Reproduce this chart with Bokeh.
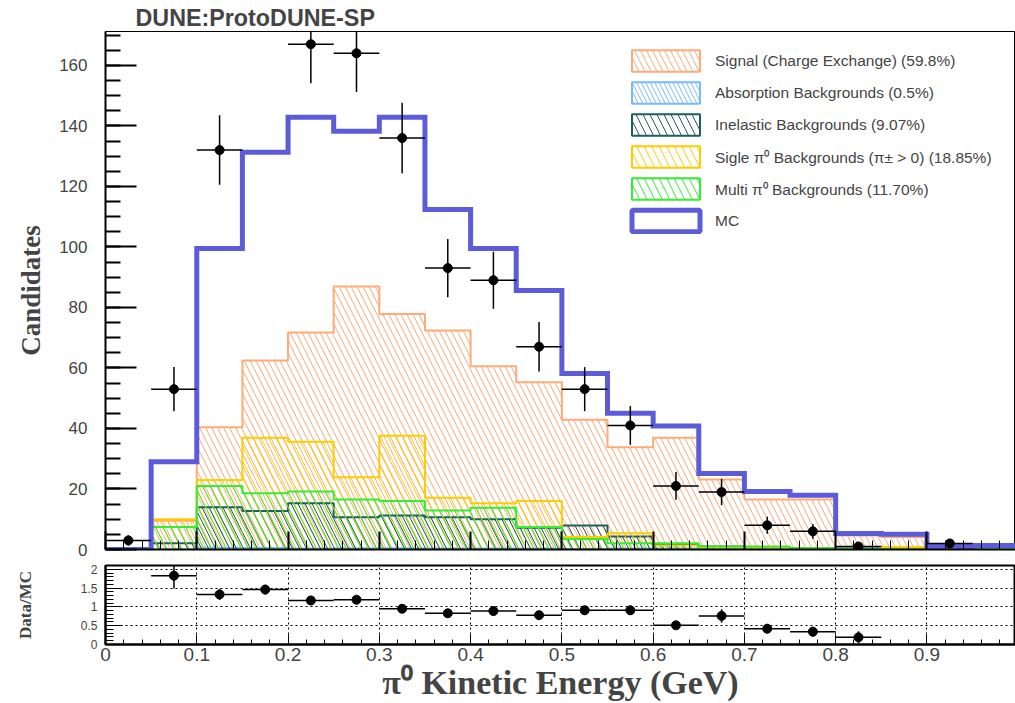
import numpy as np
from bokeh.plotting import figure
from bokeh.layouts import column
from bokeh.models import (ColumnDataSource, Range1d, SingleIntervalTicker, Legend,
                          LegendItem, CustomJSTickFormatter)
from bokeh.embed import file_html
from bokeh.resources import INLINE

# ---------------- data ----------------
bin_edges = [0.00, 0.05, 0.10, 0.15, 0.20, 0.25, 0.30, 0.35, 0.40, 0.45, 0.50,
             0.55, 0.60, 0.65, 0.70, 0.75, 0.80, 0.85, 0.90, 0.95, 1.00]

signal_cex = [0.0, 9.5, 40.4, 62.5, 71.7, 86.9, 77.8, 72.4, 60.6, 55.3, 42.9,
              33.8, 36.9, 23.1, 16.5, 16.5, 4.6, 4.1, 0.5, 0.6]
absorption_bkg = [0.0, 0.0, 0.6, 0.5, 0.3, 0.4, 0.4, 0.3, 0.3, 0.3, 0.2,
                  0.3, 0.3, 0.3, 0.6, 0.5, 0.0, 0.0, 0.0, 0.0]
inelastic_bkg = [0.0, 2.1, 14.0, 12.7, 15.3, 10.7, 11.2, 10.7, 10.0, 7.2, 7.9,
                 4.3, 1.6, 1.0, 0.7, 0.4, 0.3, 0.0, 0.2, 0.2]
single_pi0_bkg = [0.0, 10.0, 23.0, 36.9, 35.6, 23.9, 37.6, 17.1, 15.3, 16.0, 4.1,
                  5.4, 1.3, 0.6, 0.5, 0.3, 0.2, 0.8, 0.3, 0.3]
multi_pi0_bkg = [0.0, 7.4, 21.0, 18.6, 19.2, 16.5, 16.0, 12.9, 13.8, 7.4, 3.5,
                 2.1, 2.1, 1.0, 1.0, 0.4, 0.2, 0.1, 0.0, 0.2]
mc_total = [0.0, 29.0, 99.5, 131.3, 142.9, 138.2, 142.9, 112.4, 99.5, 85.6, 58.2,
            45.0, 40.8, 25.1, 19.2, 17.9, 5.3, 5.0, 1.0, 1.3]
data_counts = [3, 53, 132, 191, 167, 164, 136, 93, 89, 67, 53,
               41, 21, 19, 8, 6, 1, 0, 2, 0]

ratio_x = [0.075, 0.125, 0.175, 0.225, 0.275, 0.325, 0.375, 0.425, 0.475,
           0.525, 0.575, 0.625, 0.675, 0.725, 0.775, 0.825]
ratio_val = [1.83, 1.33, 1.46, 1.17, 1.19, 0.95, 0.83, 0.89, 0.78,
             0.91, 0.91, 0.51, 0.76, 0.42, 0.34, 0.19]
ratio_err = [0.34, 0.15, 0.13, 0.08, 0.08, 0.07, 0.07, 0.07, 0.07,
             0.10, 0.12, 0.09, 0.18, 0.12, 0.13, 0.16]

labels = ["Signal (Charge Exchange) (59.8%)",
          "Absorption Backgrounds (0.5%)",
          "Inelastic Backgrounds (9.07%)",
          "Sigle \u03c0\u2070 Backgrounds (\u03c0\u00b1 > 0) (18.85%)",
          "Multi \u03c0\u2070 Backgrounds (11.70%)",
          "MC"]

# ---------------- style ----------------
SANS = "Liberation Sans"
SERIF = "Liberation Serif"
comp_styles = [  # color, hatch scale
    ("#FFAA77", 12),
    ("#77BBFF", 9),
    ("#1E5F5F", 14),
    ("#FFCC00", 15),
    ("#33EE33", 15),
]
MC_COLOR = "#5C5CDB"

edges = np.array(bin_edges)
left = edges[:-1]
right = edges[1:]
centers = 0.5 * (left + right)


def step_xy(vals):
    xs = [edges[0]] + list(edges) + [edges[-1]]
    ys = [0.0] + list(vals) + [vals[-1], 0.0]
    return xs, ys


blank = CustomJSTickFormatter(code="return '';")
fmt = CustomJSTickFormatter(code="return String(Math.round(tick*100)/100);")

X_END = 0.997
p1 = figure(width=1015, height=561, x_range=Range1d(0, X_END), y_range=Range1d(0, 171.2),
            output_backend="svg", toolbar_location=None,
            min_border_left=105, min_border_right=0, min_border_top=31, min_border_bottom=12,
            title="DUNE:ProtoDUNE-SP")
p1.title.align = "left"
p1.title.offset = 30
p1.title.standoff = 2
p1.title.text_font = SANS
p1.title.text_font_size = "23.3px"
p1.title.text_font_style = "bold"
p1.xgrid.visible = False
p1.ygrid.visible = False
p1.outline_line_color = "black"
p1.outline_line_width = 1
p1.background_fill_color = "white"
p1.border_fill_color = "white"

xa = p1.xaxis[0]
xa.ticker = SingleIntervalTicker(interval=0.1, num_minor_ticks=5)
xa.formatter = blank
xa.major_tick_in = 18
xa.major_tick_out = 0
xa.minor_tick_in = 9
xa.minor_tick_out = 0
xa.major_label_standoff = 0
xa.axis_line_width = 2
xa.major_tick_line_width = 2

ya = p1.yaxis[0]
ya.ticker = SingleIntervalTicker(interval=20, num_minor_ticks=4)
ya.major_tick_in = 31
ya.major_tick_out = 0
ya.minor_tick_in = 15
ya.minor_tick_out = 0
ya.major_tick_line_width = 2
ya.minor_tick_line_width = 2
ya.axis_line_width = 2
ya.major_label_text_font = SANS
ya.major_label_text_font_size = "17px"
ya.major_label_standoff = 18
ya.axis_label = "Candidates"
ya.axis_label_text_font = SERIF
ya.axis_label_text_font_style = "bold"
ya.axis_label_text_font_size = "27px"
ya.axis_label_standoff = 10

comps = [signal_cex, absorption_bkg, inelastic_bkg, single_pi0_bkg, multi_pi0_bkg]
legend_items = []
for vals, (col, hs), lab in zip(comps, comp_styles, labels[:5]):
    src = ColumnDataSource(dict(left=left, right=right, bottom=np.zeros(len(vals)), top=vals))
    p1.quad(left="left", right="right", bottom="bottom", top="top", source=src,
            fill_color=None, line_color=None, hatch_pattern="\\", hatch_color=col,
            hatch_scale=hs, hatch_weight=1)
    xs, ys = step_xy(vals)
    p1.step(xs, ys, mode="after", line_color=col, line_width=2)
    leg = p1.quad(left="left", right="right", bottom="bottom", top="top", source=src,
                  fill_color="white", line_color=col, line_width=2, hatch_pattern="\\",
                  hatch_color=col, hatch_scale=hs, hatch_weight=1, visible=False)
    legend_items.append(LegendItem(label=lab, renderers=[leg]))

xs, ys = step_xy(mc_total)
p1.step(xs, ys, mode="after", line_color=MC_COLOR, line_width=5, line_join="miter")
mc_src = ColumnDataSource(dict(left=left, right=right, bottom=np.zeros(len(mc_total)), top=mc_total))
mc_leg = p1.quad(left="left", right="right", bottom="bottom", top="top", source=mc_src,
                 fill_color="white", line_color=MC_COLOR, line_width=5, visible=False)
legend_items.append(LegendItem(label=labels[5], renderers=[mc_leg]))

# data points
cnt = np.array(data_counts, dtype=float)
m = cnt > 0
err = np.sqrt(cnt[m])
dsrc = ColumnDataSource(dict(x=centers[m], y=cnt[m], x0=left[m], x1=right[m],
                             lo=cnt[m] - err, hi=cnt[m] + err))
p1.segment(x0="x0", y0="y", x1="x1", y1="y", source=dsrc, line_color="black", line_width=1.5)
p1.segment(x0="x", y0="lo", x1="x", y1="hi", source=dsrc, line_color="black", line_width=1.5)
p1.scatter(x="x", y="y", source=dsrc, size=9, color="black")

legend = Legend(items=legend_items, location=(518, 315), glyph_width=85, glyph_height=27,
                spacing=5, label_standoff=7, padding=0, margin=0,
                border_line_color=None, background_fill_alpha=0,
                label_text_font=SANS, label_text_font_size="15.5px", label_height=22)
p1.add_layout(legend)

# ---------------- ratio panel ----------------
p2 = figure(width=1015, height=142, x_range=Range1d(0, X_END), y_range=Range1d(0, 2.1),
            output_backend="svg", toolbar_location=None,
            min_border_left=105, min_border_right=0, min_border_top=4, min_border_bottom=58)
p2.outline_line_color = "black"
p2.outline_line_width = 2
p2.background_fill_color = "white"
p2.border_fill_color = "white"

xb = p2.xaxis[0]
xb.ticker = SingleIntervalTicker(interval=0.1, num_minor_ticks=5)
xb.formatter = fmt
xb.major_tick_in = 10
xb.major_tick_out = 0
xb.minor_tick_in = 5
xb.minor_tick_out = 0
xb.axis_line_width = 2
xb.major_label_text_font = SANS
xb.major_label_text_font_size = "19px"
xb.major_label_standoff = 3
xb.axis_label = "\u03c0\u2070 Kinetic Energy (GeV)"
xb.axis_label_text_font = SERIF
xb.axis_label_text_font_style = "bold"
xb.axis_label_text_font_size = "34px"
xb.axis_label_standoff = 0

yb = p2.yaxis[0]
yb.ticker = SingleIntervalTicker(interval=0.5, num_minor_ticks=5)
yb.formatter = fmt
yb.major_tick_in = 17
yb.major_tick_out = 0
yb.minor_tick_in = 8
yb.minor_tick_out = 0
yb.axis_line_width = 2
yb.major_label_text_font = SANS
yb.major_label_text_font_size = "12px"
yb.major_label_standoff = 8
yb.axis_label = "Data/MC"
yb.axis_label_text_font = SERIF
yb.axis_label_text_font_style = "bold"
yb.axis_label_text_font_size = "17px"
yb.axis_label_standoff = 43

for g in (p2.xgrid[0], p2.ygrid[0]):
    g.grid_line_color = "black"
    g.grid_line_dash = "2 3"
    g.grid_line_width = 1
p2.xgrid[0].ticker = SingleIntervalTicker(interval=0.1)
p2.ygrid[0].ticker = SingleIntervalTicker(interval=0.5)

rx = np.array(ratio_x)
rv = np.array(ratio_val)
re = np.array(ratio_err)
rsrc = ColumnDataSource(dict(x=rx, y=rv, x0=rx - 0.025, x1=rx + 0.025, lo=rv - re, hi=rv + re))
p2.segment(x0="x0", y0="y", x1="x1", y1="y", source=rsrc, line_color="black", line_width=1.5)
p2.segment(x0="x", y0="lo", x1="x", y1="hi", source=rsrc, line_color="black", line_width=1.5)
p2.scatter(x="x", y="y", source=rsrc, size=9, color="black")

layout = column(p1, p2, spacing=0)
open("out.html", "w").write(file_html(layout, INLINE))
